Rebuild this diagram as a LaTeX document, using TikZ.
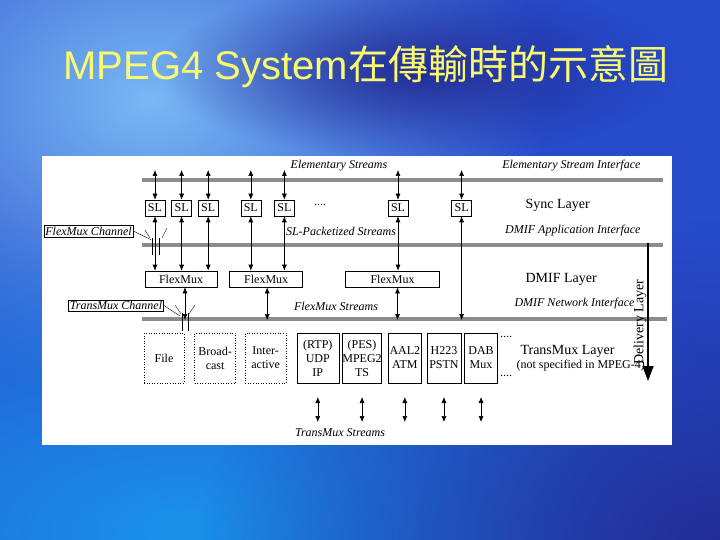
\documentclass[tikz,border=0pt]{standalone}
\usepackage{fontspec}
\setmainfont{Liberation Serif}
\newfontfamily\titlefont{Liberation Sans}
\newfontfamily\cjk{Noto Sans CJK TC}
\usetikzlibrary{positioning,arrows.meta,fadings}
\definecolor{slideblue}{RGB}{38,76,204}
\definecolor{skyblue}{RGB}{122,184,244}
\definecolor{brightblue}{RGB}{26,146,234}
\definecolor{deepblue}{RGB}{34,44,150}
\definecolor{titleyellow}{RGB}{250,250,112}
\definecolor{busgray}{RGB}{140,140,140}
\tikzfading[name=glow, inner color=transparent!0, outer color=transparent!100]
\newcommand\boxfont{\fontsize{12}{14}\selectfont}
\newcommand\layerfont{\fontsize{14}{16}\selectfont}

\begin{document}
\begin{tikzpicture}[x=1pt,y=-1pt,
    blk/.style={draw,semithick,fill=white,inner sep=0pt,minimum height=16pt,font=\boxfont},
    sl/.style={blk,minimum width=20pt},
    tm/.style={blk,minimum height=50pt,align=center},
    tmd/.style={tm,dotted},
    chan/.style={draw,thin,fill=white,inner sep=1.5pt,font=\boxfont\itshape},
    lab/.style={font=\boxfont\itshape},
    layer/.style={font=\layerfont},
    bus/.style={busgray,line width=4pt},
    dbl/.style={semithick,{Latex[length=6pt,width=5pt]}-{Latex[length=6pt,width=5pt]}}]

  \useasboundingbox (0,0) rectangle (720,540);
  \fill[slideblue] (0,0) rectangle (720,540);
  \fill[skyblue,path fading=glow] (150,100) ellipse (400 and 300);
  \fill[brightblue,path fading=glow] (180,530) ellipse (640 and 320);
  \fill[deepblue,path fading=glow] (420,70) ellipse (260 and 90);
  \fill[deepblue,path fading=glow] (720,540) ellipse (520 and 320);

  \node[anchor=base west,text=titleyellow,font=\fontsize{40}{40}\titlefont] (title) at (60,80) {MPEG4 System{\cjk 在傳輸時的示意圖}};

  \fill[white] (42,156) rectangle (672,445);
  \draw[bus] (142,180) -- (663,180);
  \draw[bus] (142,245) -- (663,245);
  \draw[bus] (142,319) -- (667,319);

  \coordinate (estop) at (142,170);
  \coordinate (fmbus) at (142,320);
  \coordinate (tstop) at (142,397);
  \coordinate (tsbot) at (142,422);

  \node[sl] (sl1) at (155,208) {SL};
  \node[sl,right=6pt of sl1] (sl2) {SL};
  \node[sl,right=6pt of sl2] (sl3) {SL};
  \node[sl,right=22pt of sl3] (sl4) {SL};
  \node[sl,right=13pt of sl4] (sl5) {SL};
  \node[sl,right=93pt of sl5] (sl6) {SL};
  \node[sl,right=43pt of sl6] (sl7) {SL};

  \node[blk,minimum width=72pt] (fm1) at (181,279) {FlexMux};
  \node[blk,thick,minimum width=73pt,right=12pt of fm1] (fm2) {FlexMux};
  \node[blk,thick,minimum width=94pt,right=42pt of fm2] (fm3) {FlexMux};

  \node[tmd,minimum width=40pt] (file) at (164,358) {File};
  \node[tmd,minimum width=41pt,right=10pt of file] (broad) {Broad-\\cast};
  \node[tmd,minimum width=41pt,right=9pt of broad] (inter) {Inter-\\active};
  \node[tm,minimum width=42pt,right=10pt of inter] (rtp) {(RTP)\\UDP\\IP};
  \node[tm,minimum width=38pt,right=3pt of rtp] (pes) {(PES)\\MPEG2\\TS};
  \node[tm,minimum width=33pt,right=6pt of pes] (aal) {AAL2\\ATM};
  \node[tm,minimum width=34pt,right=5pt of aal] (h223) {H223\\PSTN};
  \node[tm,minimum width=33pt,right=3pt of h223] (dab) {DAB\\Mux};

  \foreach \s in {sl1,sl2,sl3,sl4,sl5,sl6,sl7}
    \draw[dbl] (\s.north |- estop) -- (\s.north);
  \foreach \s/\f in {sl1/fm1,sl2/fm1,sl3/fm1,sl4/fm2,sl5/fm2,sl6/fm3}
    \draw[dbl] (\s.south) -- (\s.south |- \f.north);
  \draw[dbl] (sl7.south) -- (sl7.south |- fmbus);
  \foreach \f/\dx in {fm1/4,fm2/1,fm3/5}
    \draw[dbl] ([xshift=\dx pt]\f.south) -- ([xshift=\dx pt]\f.south |- fmbus);
  \foreach \t in {rtp,pes,aal,h223,dab}
    \draw[dbl] (\t.south |- tstop) -- (\t.south |- tsbot);

  \node[chan] (fmc) at (88.5,231) {FlexMux Channel};
  \coordinate (fch) at (155.5,245);
  \draw (fmc.east) -- ([shift={(-4,-5)}]fch);
  \draw ([shift={(-3.5,-7)}]fch) -- ([shift={(-3.5,10)}]fch)
        ([shift={(3.5,-7)}]fch) -- ([shift={(3.5,10)}]fch);
  \draw ([shift={(-10.5,-15)}]fch) -- ([shift={(-5.5,-7)}]fch)
        ([shift={(11.5,-17)}]fch) -- ([shift={(6.5,-7)}]fch);

  \node[chan] (tmc) at (116,305.5) {TransMux Channel};
  \coordinate (tch) at (185,319);
  \draw (tmc.east) -- ([shift={(-5,-3)}]tch);
  \draw ([shift={(-3,-6)}]tch) -- ([shift={(-3,12)}]tch)
        ([shift={(3,-6)}]tch) -- ([shift={(3,12)}]tch);
  \draw ([shift={(-10,-14)}]tch) -- ([shift={(-4,-5)}]tch)
        ([shift={(10,-14)}]tch) -- ([shift={(4,-5)}]tch);

  \node[lab] (es) at (339,166) {Elementary Streams};
  \node[lab,anchor=east] (esi) at (644,166) {Elementary Stream Interface};
  \node[font=\boxfont] (dots1) at (320,205) {....};
  \node[layer,anchor=west] (sync) at (522,205) {Sync Layer};
  \node[lab] (sps) at (341,231) {SL-Packetized Streams};
  \node[lab,anchor=east] (dai) at (644,231) {DMIF Application Interface};
  \node[layer,anchor=west] (dmif) at (522,279) {DMIF Layer};
  \node[lab] (fms) at (336,306) {FlexMux Streams};
  \node[lab,anchor=east] (dni) at (638,304) {DMIF Network Interface};
  \node[font=\boxfont] (dots2) at (506,337) {....};
  \node[font=\boxfont] (dots3) at (506,376) {....};
  \node[layer,anchor=west] (tml) at (517,351) {TransMux Layer};
  \node[font=\boxfont,anchor=west] (nsp) at (513,366) {(not specified in MPEG-4)};
  \node[lab] (tms) at (340,433) {TransMux Streams};
  \node[layer,rotate=90] (dl) at (640,322) {Delivery Layer};

  \coordinate (dtop) at (648,243);
  \coordinate (dbot) at (648,381);
  \draw[line width=1.6pt,-{Triangle[length=15pt,width=11pt]}] (dtop) -- (dbot);
\end{tikzpicture}
\end{document}
